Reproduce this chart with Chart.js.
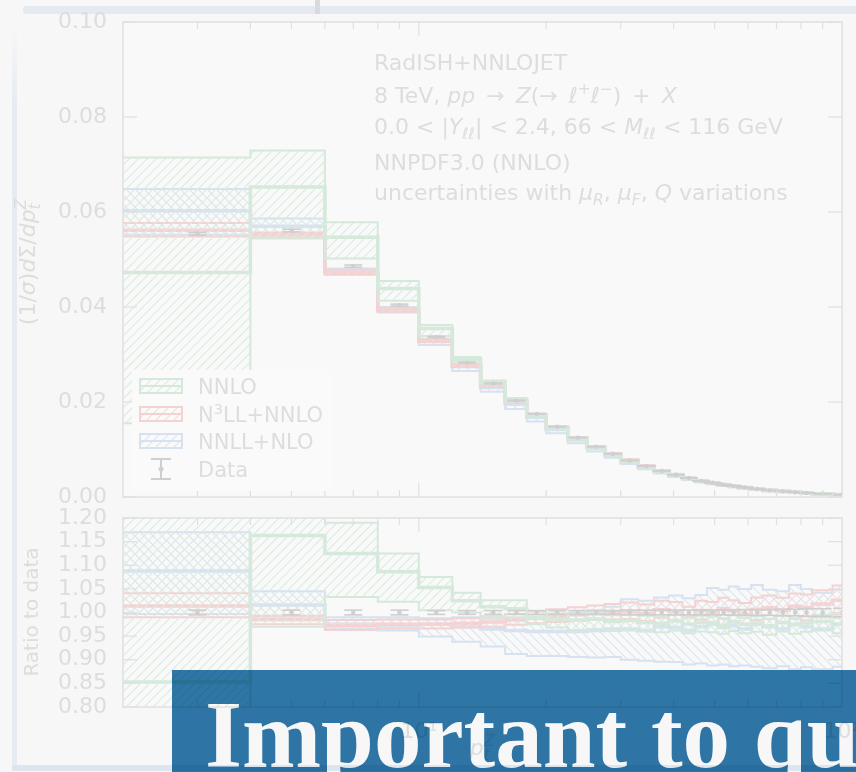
<!DOCTYPE html>
<html>
<head>
<meta charset="utf-8">
<title>RadISH+NNLOJET – Z transverse momentum</title>
<script src="https://cdn.jsdelivr.net/npm/chart.js@4.4.1/dist/chart.umd.min.js"></script>
<style>
  html, body { margin:0; padding:0; background:#f7f7f7; }
  #stage { position:relative; width:856px; height:772px; overflow:hidden; background:#f7f7f7; }
  #stage canvas { position:absolute; left:0; }
  #mainCanvas { top:0; }
  #ratioCanvas { top:500px; }
  .deco { position:absolute; }
  #topBar { left:23px; top:6px; width:833px; height:8px; background:#e4eaf0; border-radius:4px 0 0 4px; }
  #topMark { left:315px; top:0; width:5px; height:14px; background:#d9dadc; }
  #leftBar { left:12px; top:30px; width:5px; height:741px; background:linear-gradient(#f5f6f8, #e5ebf1 80px); }
  #bottomBar { left:12px; top:765px; width:844px; height:6px; background:#dde6ee; }
  #banner { left:172px; top:670px; width:684px; height:102px; background:#2f79aa; mix-blend-mode:multiply; overflow:hidden; }
  #banner span { position:absolute; left:33px; top:18px; font:bold 95px/95px "Liberation Serif", serif; color:#fff; white-space:nowrap; }
</style>
</head>
<body>
<div id="stage">
  <div class="deco" id="topBar"></div>
  <div class="deco" id="topMark"></div>
  <div class="deco" id="leftBar"></div>
  <div class="deco" id="bottomBar"></div>
  <canvas id="mainCanvas" width="856" height="510"></canvas>
  <canvas id="ratioCanvas" width="856" height="272"></canvas>
  <div class="deco" id="banner"><span>Important to quantify</span></div>
</div>
<script>
// ---- binning (GeV) ----
const binEdges = [2, 4, 6, 8, 10, 12, 14, 16, 18, 20, 22.5, 25, 27.5, 30, 33, 36, 39, 42, 45, 48, 51, 54, 57, 61, 65, 70, 75, 80, 85, 95, 105];

// ---- measured distribution (1/sigma dSigma/dpT) and relative uncertainty ----
const dataValues = [0.0554, 0.0561, 0.0486, 0.0404, 0.0337, 0.0283, 0.0239, 0.0203, 0.0175, 0.0148,
                    0.0125, 0.0106, 0.0091, 0.0077, 0.0065, 0.0055, 0.0047, 0.0040, 0.0034, 0.0030,
                    0.0026, 0.0023, 0.0020, 0.0017, 0.0014, 0.0012, 0.0010, 0.00085, 0.00068, 0.00050];
const dataRelErr = [0.005, 0.005, 0.005, 0.005, 0.004, 0.004, 0.004, 0.004, 0.004, 0.004,
                    0.004, 0.004, 0.004, 0.005, 0.005, 0.005, 0.005, 0.005, 0.005, 0.005,
                    0.005, 0.006, 0.006, 0.006, 0.006, 0.007, 0.007, 0.008, 0.008, 0.009];

// ---- predictions, as ratio to data ----
const nnloCentral = [0.853, 1.163, 1.125, 1.086, 1.053, 1.025, 1.012, 1.008, 0.990, 0.985,
                     0.984, 0.986, 0.981, 0.983, 0.979, 0.977, 0.982, 0.975, 0.979, 0.977,
                     0.973, 0.980, 0.975, 0.978, 0.972, 0.979, 0.974, 0.978, 0.981, 0.975];
const nnloLow     = [0.280, 0.970, 1.033, 1.023, 1.005, 1.000, 0.990, 0.990, 0.975, 0.968,
                     0.963, 0.965, 0.961, 0.962, 0.960, 0.958, 0.962, 0.956, 0.960, 0.958,
                     0.955, 0.961, 0.956, 0.959, 0.953, 0.960, 0.955, 0.959, 0.962, 0.956];
const nnloHigh    = [1.290, 1.300, 1.190, 1.125, 1.075, 1.042, 1.026, 1.026, 1.003, 0.998,
                     0.997, 0.999, 0.994, 0.996, 0.993, 0.991, 0.995, 0.989, 0.993, 0.991,
                     0.988, 0.994, 0.989, 0.992, 0.987, 0.993, 0.988, 0.992, 0.995, 0.989];

const n3llCentral = [1.014, 0.985, 0.972, 0.975, 0.975, 0.977, 0.980, 0.984, 0.988, 0.992,
                     0.995, 0.998, 1.000, 1.002, 0.998, 1.006, 1.002, 0.992, 1.004, 1.000,
                     1.008, 1.003, 0.996, 1.007, 1.010, 1.005, 1.013, 1.010, 1.018, 1.026];
const n3llLow     = [0.990, 0.975, 0.963, 0.966, 0.966, 0.968, 0.970, 0.974, 0.977, 0.980,
                     0.982, 0.984, 0.985, 0.986, 0.982, 0.989, 0.984, 0.974, 0.985, 0.980,
                     0.987, 0.982, 0.974, 0.984, 0.986, 0.980, 0.987, 0.983, 0.990, 0.996];
const n3llHigh    = [1.041, 0.993, 0.984, 0.985, 0.985, 0.988, 0.992, 0.997, 1.002, 1.007,
                     1.011, 1.015, 1.018, 1.021, 1.017, 1.025, 1.022, 1.012, 1.025, 1.022,
                     1.031, 1.026, 1.020, 1.032, 1.036, 1.031, 1.040, 1.038, 1.047, 1.057];

const nnllCentral = [1.088, 1.016, 0.975, 0.972, 0.975, 0.970, 0.965, 0.962, 0.960, 0.960,
                     0.960, 0.962, 0.965, 0.965, 0.962, 0.970, 0.968, 0.962, 0.970, 0.975,
                     0.968, 0.972, 0.965, 0.975, 0.970, 0.965, 0.975, 0.970, 0.965, 0.975];
const nnllLow     = [0.997, 0.991, 0.965, 0.962, 0.949, 0.938, 0.928, 0.912, 0.908, 0.908,
                     0.906, 0.905, 0.906, 0.900, 0.898, 0.896, 0.895, 0.890, 0.892, 0.888,
                     0.890, 0.886, 0.888, 0.885, 0.882, 0.886, 0.880, 0.884, 0.880, 0.885];
const nnllHigh    = [1.170, 1.045, 0.990, 0.990, 0.988, 0.990, 0.987, 0.987, 0.990, 0.995,
                     1.000, 1.005, 1.012, 1.028, 1.025, 1.032, 1.036, 1.030, 1.037, 1.052,
                     1.048, 1.055, 1.050, 1.058, 1.048, 1.045, 1.058, 1.050, 1.042, 1.048];

// ---- axis ticks ----
const mainYTicks  = [0.00, 0.02, 0.04, 0.06, 0.08, 0.10];
const ratioYTicks = [0.80, 0.85, 0.90, 0.95, 1.00, 1.05, 1.10, 1.15, 1.20];
const xLabelTicks = [10, 100];
const xLabelText  = ['10¹', '10²'];
const xMinorTicks = [3, 4, 5, 6, 7, 8, 9, 20, 30, 40, 50, 60, 70, 80, 90];
const xMajorTicks = [10];

// ---- styling ----
const FONT = '"DejaVu Sans", sans-serif';
const COL = {
  text: '#dddddd', frame: '#e0e0e0', plotBg: '#f9f9f9', legendBg: '#fafafa',
  green: '#d5e9da', greenHatch: '#dbebdf',
  red: '#f4d2d2', redHatch: '#f3dbdb',
  blue: '#d6e2ef', blueHatch: '#dce5ef',
  data: '#cfcfcf'
};
Chart.defaults.font.family = FONT;

const series = [
  { label: 'NNLO',      legend: [['NNLO', 'n']],                                central: nnloCentral, low: nnloLow, high: nnloHigh, line: COL.green, hatchCol: COL.greenHatch, dir: '/' },
  { label: 'N3LL+NNLO', legend: [['N', 'n'], ['3', 'p'], ['LL+NNLO', 'n']],      central: n3llCentral, low: n3llLow, high: n3llHigh, line: COL.red,   hatchCol: COL.redHatch,   dir: '/' },
  { label: 'NNLL+NLO',  legend: [['NNLL+NLO', 'n']],                            central: nnllCentral, low: nnllLow, high: nnllHigh, line: COL.blue,  hatchCol: COL.blueHatch,  dir: '\\' }
];

function hatchPattern(ctx, color, dir) {
  const s = 9;
  const c = document.createElement('canvas');
  c.width = s; c.height = s;
  const g = c.getContext('2d');
  g.strokeStyle = color; g.lineWidth = 1.1;
  g.beginPath();
  if (dir === '/') {
    g.moveTo(0, s); g.lineTo(s, 0);
    g.moveTo(-2, 2); g.lineTo(2, -2);
    g.moveTo(s - 2, s + 2); g.lineTo(s + 2, s - 2);
  } else {
    g.moveTo(0, 0); g.lineTo(s, s);
    g.moveTo(-2, s - 2); g.lineTo(2, s + 2);
    g.moveTo(s - 2, -2); g.lineTo(s + 2, 2);
  }
  g.stroke();
  return ctx.createPattern(c, 'repeat');
}

// histogram outline: one point per bin edge, last value repeated at the closing edge
const stepPoints = vals => binEdges.map((e, i) => ({ x: e, y: vals[Math.min(i, vals.length - 1)] }));

function bandDatasets(ctx, toY) {
  const out = [];
  series.forEach(s => {
    const common = { stepped: true, pointRadius: 0, borderColor: s.line, tension: 0 };
    out.push(Object.assign({ label: s.label + ' upper', data: stepPoints(toY(s.high)), borderWidth: 2,
                             backgroundColor: hatchPattern(ctx, s.hatchCol, s.dir), fill: '+1' }, common));
    out.push(Object.assign({ label: s.label + ' lower', data: stepPoints(toY(s.low)), borderWidth: 2, fill: false }, common));
    out.push(Object.assign({ label: s.label, data: stepPoints(toY(s.central)), borderWidth: 3.5, fill: false }, common));
  });
  return out;
}

// rich text: n normal, i italic, b subscript, p superscript, 0 = no advance
function richText(ctx, x, y, segs, size, draw) {
  let cx = x;
  for (const [t, st] of segs) {
    const it = st.includes('i');
    const small = st.includes('b') || st.includes('p');
    const fs = small ? size * 0.7 : size;
    ctx.font = (it ? 'italic ' : '') + fs + 'px ' + FONT;
    const dy = st.includes('b') ? size * 0.24 : st.includes('p') ? -size * 0.4 : 0;
    if (draw) ctx.fillText(t, cx, y + dy);
    if (!st.includes('0')) cx += ctx.measureText(t).width;
  }
  return cx - x;
}

function line(ctx, x1, y1, x2, y2) { ctx.beginPath(); ctx.moveTo(x1, y1); ctx.lineTo(x2, y2); ctx.stroke(); }

// frame, inward ticks and measured points with error bars
const panelPlugin = {
  id: 'panel',
  beforeDatasetsDraw(chart) {
    const { ctx, chartArea: a } = chart;
    ctx.save();
    ctx.fillStyle = COL.plotBg;
    ctx.fillRect(a.left, a.top, a.right - a.left, a.bottom - a.top);
    ctx.restore();
  },
  afterDatasetsDraw(chart, args, opts) {
    const { ctx, chartArea: a } = chart;
    const xs = chart.scales.x, ys = chart.scales.y;
    ctx.save();
    // measured points
    ctx.beginPath(); ctx.rect(a.left, a.top, a.right - a.left, a.bottom - a.top); ctx.clip();
    ctx.strokeStyle = COL.data; ctx.fillStyle = COL.data; ctx.lineWidth = 1.6;
    for (let i = 0; i < dataValues.length; i++) {
      const xc = (binEdges[i] + binEdges[i + 1]) / 2;
      const v = opts.ratio ? 1 : dataValues[i];
      const e = v * dataRelErr[i];
      const px = xs.getPixelForValue(xc);
      const y1 = ys.getPixelForValue(v - e), y2 = ys.getPixelForValue(v + e);
      line(ctx, px, y1, px, y2);
      line(ctx, px - 9, y1, px + 9, y1);
      line(ctx, px - 9, y2, px + 9, y2);
      ctx.beginPath(); ctx.arc(px, ys.getPixelForValue(v), 2.2, 0, Math.PI * 2); ctx.fill();
    }
    ctx.restore();
    ctx.save();
    ctx.strokeStyle = COL.frame; ctx.lineWidth = 1.5;
    ctx.strokeRect(a.left, a.top, a.right - a.left, a.bottom - a.top);
    ctx.lineWidth = 1.2;
    xMinorTicks.forEach(v => { const p = xs.getPixelForValue(v); line(ctx, p, a.top, p, a.top + 7); line(ctx, p, a.bottom, p, a.bottom - 7); });
    xMajorTicks.forEach(v => { const p = xs.getPixelForValue(v); line(ctx, p, a.top, p, a.top + 14); line(ctx, p, a.bottom, p, a.bottom - 14); });
    ys.ticks.forEach(t => { const p = ys.getPixelForValue(t.value); line(ctx, a.left, p, a.left + 14, p); line(ctx, a.right, p, a.right - 14, p); });
    ctx.restore();
  }
};

// process description, legend and y title of the upper panel
const mainDecor = {
  id: 'mainDecor',
  afterDraw(chart) {
    const ctx = chart.ctx;
    ctx.save();
    ctx.fillStyle = COL.text;
    ctx.textBaseline = 'alphabetic';
    const lines = [
      [[['RadISH+NNLOJET', 'n']], 70],
      [[['8 TeV, ', 'n'], ['pp', 'i'], ['\u2002→\u2002', 'n'], ['Z', 'i'], ['(→\u2002', 'n'], ['ℓ', 'i'], ['+', 'p'], ['ℓ', 'i'], ['−', 'p'], [')\u2002+\u2002', 'n'], ['X', 'i']], 103],
      [[['0.0 < |', 'n'], ['Y', 'i'], ['ℓℓ', 'ib'], ['| < 2.4, 66 < ', 'n'], ['M', 'i'], ['ℓℓ', 'ib'], [' < 116 GeV', 'n']], 134],
      [[['NNPDF3.0 (NNLO)', 'n']], 170],
      [[['uncertainties with ', 'n'], ['μ', 'i'], ['R', 'ib'], [', ', 'n'], ['μ', 'i'], ['F', 'ib'], [', ', 'n'], ['Q', 'i'], [' variations', 'n']], 200]
    ];
    lines.forEach(([segs, y]) => richText(ctx, 374, y, segs, 22, true));

    // legend
    const lx = 132, ly = 370;
    ctx.fillStyle = COL.legendBg;
    ctx.fillRect(lx, ly, 200, 121);
    const rows = [386, 414, 441];
    series.forEach((s, k) => {
      const yc = rows[k];
      ctx.fillStyle = hatchPattern(ctx, s.hatchCol, '/');
      ctx.fillRect(140, yc - 7, 42, 14);
      ctx.strokeStyle = s.line; ctx.lineWidth = 2;
      ctx.strokeRect(140, yc - 7, 42, 14);
      line(ctx, 140, yc, 182, yc);
      ctx.fillStyle = COL.text;
      richText(ctx, 198, yc + 8, s.legend, 21, true);
    });
    ctx.strokeStyle = COL.data; ctx.fillStyle = COL.data; ctx.lineWidth = 2;
    line(ctx, 161, 459, 161, 479); line(ctx, 151, 459, 171, 459); line(ctx, 151, 479, 171, 479);
    ctx.beginPath(); ctx.arc(161, 469, 2.5, 0, Math.PI * 2); ctx.fill();
    ctx.fillStyle = COL.text;
    richText(ctx, 198, 477, [['Data', 'n']], 21, true);

    // y title
    const ysegs = [['(1/', 'n'], ['σ', 'i'], [')', 'n'], ['d', 'i'], ['Σ', 'n'], ['/', 'n'], ['dp', 'i'], ['t', 'ib0'], ['Z', 'ip']];
    ctx.translate(35, 262); ctx.rotate(-Math.PI / 2);
    const w = richText(ctx, 0, 0, ysegs, 22, false);
    richText(ctx, -w / 2, 0, ysegs, 22, true);
    ctx.restore();
  }
};

const ratioDecor = {
  id: 'ratioDecor',
  afterDraw(chart) {
    const ctx = chart.ctx;
    ctx.save();
    ctx.fillStyle = COL.text;
    const xsegs = [['p', 'i'], ['t', 'ib0'], ['Z', 'ip']];
    const w = richText(ctx, 0, 0, xsegs, 22, false);
    richText(ctx, 482 - w / 2, 255, xsegs, 22, true);
    ctx.translate(38, 112); ctx.rotate(-Math.PI / 2);
    ctx.font = '20px ' + FONT; ctx.textAlign = 'center'; ctx.textBaseline = 'alphabetic';
    ctx.fillText('Ratio to data', 0, 0);
    ctx.restore();
  }
};

function yScale(min, max, tickList) {
  return {
    type: 'linear', min, max,
    afterFit(s) { s.width = 123; s.paddingTop = 0; s.paddingBottom = 0; },
    afterBuildTicks(s) { s.ticks = tickList.map(v => ({ value: v })); },
    ticks: { autoSkip: false, padding: 16, color: COL.text, font: { size: 22, family: FONT }, callback: v => Number(v).toFixed(2) },
    grid: { display: false, drawTicks: false }, border: { display: false }
  };
}

const mainCtx = document.getElementById('mainCanvas').getContext('2d');
new Chart(mainCtx, {
  type: 'line',
  data: { datasets: bandDatasets(mainCtx, r => r.map((v, i) => v * dataValues[i])) },
  options: {
    responsive: false, animation: false, devicePixelRatio: 1,
    layout: { padding: { top: 22, right: 14, bottom: 13, left: 0 } },
    plugins: { legend: { display: false }, tooltip: { enabled: false }, panel: { ratio: false } },
    scales: {
      x: { type: 'logarithmic', min: 2, max: 100, display: false },
      y: yScale(0, 0.10, mainYTicks)
    }
  },
  plugins: [panelPlugin, mainDecor]
});

const ratioCtx = document.getElementById('ratioCanvas').getContext('2d');
new Chart(ratioCtx, {
  type: 'line',
  data: { datasets: bandDatasets(ratioCtx, r => r.slice()) },
  options: {
    responsive: false, animation: false, devicePixelRatio: 1,
    layout: { padding: { top: 18, right: 14, bottom: 0, left: 0 } },
    plugins: { legend: { display: false }, tooltip: { enabled: false }, panel: { ratio: true } },
    scales: {
      x: {
        type: 'logarithmic', min: 2, max: 100,
        afterFit(s) { s.height = 65; s.paddingLeft = 0; s.paddingRight = 0; },
        afterBuildTicks(s) { s.ticks = xLabelTicks.map(v => ({ value: v })); },
        ticks: { autoSkip: false, maxRotation: 0, padding: 12, color: COL.text, font: { size: 22, family: FONT },
                 callback: v => { const k = xLabelTicks.indexOf(v); return k >= 0 ? xLabelText[k] : ''; } },
        grid: { display: false, drawTicks: false }, border: { display: false }
      },
      y: yScale(0.8, 1.2, ratioYTicks)
    }
  },
  plugins: [panelPlugin, ratioDecor]
});
</script>
</body>
</html>
